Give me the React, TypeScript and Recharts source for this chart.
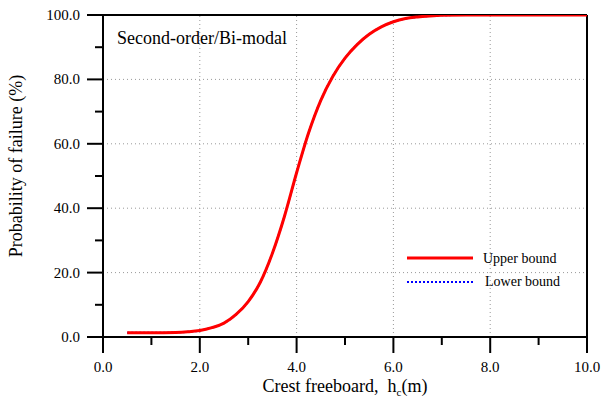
import { LineChart, Line, XAxis, YAxis, ReferenceLine, Label } from 'recharts'

// crest freeboard (m)
const freeboard = [0.5, 1.0, 1.5, 1.75, 2.0, 2.25, 2.5, 2.75, 3.0, 3.25, 3.5, 3.75, 4.0, 4.25, 4.5, 4.75, 5.0, 5.25, 5.5, 5.75, 6.0, 6.25, 6.5, 6.75, 7.0, 7.5, 8.0, 9.0, 10.0]
// probability of failure (%)
const upperBound = [1.3, 1.3, 1.4, 1.6, 2.0, 2.9, 4.3, 7.0, 11.0, 17.0, 26.0, 37.5, 51.0, 63.5, 73.5, 81.0, 86.6, 90.8, 94.0, 96.3, 97.9, 98.9, 99.4, 99.7, 99.9, 100, 100, 100, 100]
const lowerBound = [1.3, 1.3, 1.4, 1.6, 2.0, 2.9, 4.3, 7.0, 11.0, 17.0, 26.0, 37.5, 51.0, 63.5, 73.5, 81.0, 86.6, 90.8, 94.0, 96.3, 97.9, 98.9, 99.4, 99.7, 99.9, 100, 100, 100, 100]

const xTicks = [0, 1, 2, 3, 4, 5, 6, 7, 8, 9, 10]
const yTicks = [0, 10, 20, 30, 40, 50, 60, 70, 80, 90, 100]
const xGrid = [2, 4, 6, 8]
const yGrid = [20, 40, 60, 80]

const data = freeboard.map((h, i) => ({ h, upper: upperBound[i], lower: lowerBound[i] }))

const FONT = '"Liberation Serif", "Times New Roman", serif'

const XTick = ({ x, y, payload }: any) => {
  const major = payload.value % 2 === 0
  return (
    <g>
      <line x1={x} x2={x} y1={y} y2={y + (major ? 16 : 8)} stroke="#000" strokeWidth={2} />
      {major && (
        <text x={x} y={y + 35} textAnchor="middle" style={{ fontFamily: FONT, fontSize: 15 }} fill="#000">
          {payload.value.toFixed(1)}
        </text>
      )}
    </g>
  )
}

const YTick = ({ x, y, payload }: any) => {
  const major = payload.value % 20 === 0
  return (
    <g>
      <line x1={x} x2={x - (major ? 16 : 8)} y1={y} y2={y} stroke="#000" strokeWidth={2} />
      {major && (
        <text x={x - 23} y={y + 5} textAnchor="end" style={{ fontFamily: FONT, fontSize: 15 }} fill="#000">
          {payload.value.toFixed(1)}
        </text>
      )}
    </g>
  )
}

export default function App() {
  return (
    <div style={{ position: 'absolute', left: 0, top: 0, width: 603, height: 401, background: '#fff' }}>
      <LineChart width={603} height={401} data={data} margin={{ top: 15, right: 16, bottom: 0, left: 0 }}>
        {xGrid.map((v) => (
          <ReferenceLine key={`gx${v}`} x={v} stroke="#999" strokeDasharray="1 3" />
        ))}
        {yGrid.map((v) => (
          <ReferenceLine key={`gy${v}`} y={v} stroke="#999" strokeDasharray="1 3" />
        ))}
        <XAxis
          dataKey="h"
          type="number"
          domain={[0, 10]}
          ticks={xTicks}
          interval={0}
          allowDataOverflow
          height={64}
          tickSize={0}
          tickMargin={0}
          tickLine={false}
          axisLine={{ stroke: '#000', strokeWidth: 2 }}
          tick={<XTick />}
        >
          <Label
            content={() => (
              <text x={345} y={392} textAnchor="middle" style={{ fontFamily: FONT, fontSize: 18 }} fill="#000">
                Crest freeboard,{'\u00a0\u00a0'}h
                <tspan style={{ fontSize: 11 }} dy={4}>c</tspan>
                <tspan dy={-4}>(m)</tspan>
              </text>
            )}
          />
        </XAxis>
        <YAxis
          type="number"
          domain={[0, 100]}
          ticks={yTicks}
          interval={0}
          allowDataOverflow
          width={103}
          tickSize={0}
          tickMargin={0}
          tickLine={false}
          axisLine={{ stroke: '#000', strokeWidth: 2 }}
          tick={<YTick />}
        >
          <Label
            content={() => (
              <text
                x={22}
                y={166}
                transform="rotate(-90, 22, 166)"
                textAnchor="middle"
                style={{ fontFamily: FONT, fontSize: 18 }}
                fill="#000"
              >
                Probability of failure (%)
              </text>
            )}
          />
        </YAxis>
        <ReferenceLine y={100} stroke="#000" strokeWidth={2} />
        <ReferenceLine x={10} stroke="#000" strokeWidth={2} />
        <Line
          dataKey="lower"
          type="monotone"
          stroke="#0000ff"
          strokeWidth={2}
          strokeDasharray="2 2"
          dot={false}
          isAnimationActive={false}
        />
        <Line dataKey="upper" type="monotone" stroke="#ff0000" strokeWidth={3} dot={false} isAnimationActive={false} />
      </LineChart>

      {/* series key */}
      <svg width={170} height={45} style={{ position: 'absolute', left: 407, top: 250 }}>
        <line x1={0} x2={66} y1={8} y2={8} stroke="#ff0000" strokeWidth={3} />
        <text x={76} y={13} style={{ fontFamily: FONT, fontSize: 14 }} fill="#000">Upper bound</text>
        <line x1={0} x2={66} y1={32} y2={32} stroke="#0000ff" strokeWidth={2} strokeDasharray="2 2" />
        <text x={78} y={36} style={{ fontFamily: FONT, fontSize: 14 }} fill="#000">Lower bound</text>
      </svg>

      <div
        style={{
          position: 'absolute',
          left: 117,
          top: 28,
          fontFamily: FONT,
          fontSize: 18,
          color: '#000',
          lineHeight: '20px',
        }}
      >
        Second-order/Bi-modal
      </div>
    </div>
  )
}
